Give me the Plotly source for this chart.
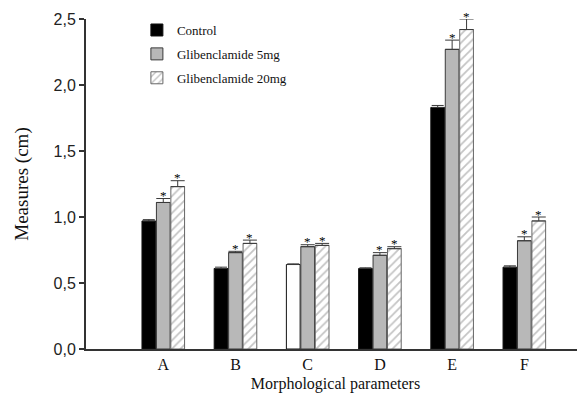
import plotly.graph_objects as go

categories = ["A", "B", "C", "D", "E", "F"]
series_names = ["Control", "Glibenclamide 5mg", "Glibenclamide 20mg"]
control = [0.97, 0.61, 0.64, 0.61, 1.83, 0.62]
control_err = [0.01, 0.01, 0.005, 0.005, 0.015, 0.01]
glib5 = [1.11, 0.73, 0.775, 0.71, 2.27, 0.82]
glib5_err = [0.03, 0.01, 0.015, 0.02, 0.07, 0.03]
glib20 = [1.23, 0.80, 0.785, 0.76, 2.42, 0.97]
glib20_err = [0.045, 0.025, 0.015, 0.015, 0.08, 0.03]
sig5 = [True] * 6
sig20 = [True] * 6
y_ticks = [0, 0.5, 1.0, 1.5, 2.0, 2.5]
y_tick_labels = ["0,0", "0,5", "1,0", "1,5", "2,0", "2,5"]

xs = list(range(len(categories)))
serif = "Liberation Serif"
sans = "Liberation Sans"
edge = "#3a3a3a"
zeros = [0] * len(categories)

control_colors = ["#000000", "#000000", "#ffffff", "#000000", "#000000", "#000000"]

fig = go.Figure()
fig.add_trace(go.Bar(
    x=xs, y=control, name=series_names[0], legendgroup="g0",
    marker=dict(color=control_colors, line=dict(color="#111111", width=1)),
    error_y=dict(type="data", symmetric=False, array=control_err, arrayminus=zeros,
                 color=edge, thickness=1, width=6),
))
fig.add_trace(go.Bar(
    x=xs, y=glib5, name=series_names[1], legendgroup="g1",
    marker=dict(color="#b8b8b8", line=dict(color=edge, width=1)),
    error_y=dict(type="data", symmetric=False, array=glib5_err, arrayminus=zeros,
                 color=edge, thickness=1, width=7),
))
fig.add_trace(go.Bar(
    x=xs, y=glib20, name=series_names[2], legendgroup="g2",
    marker=dict(color="#ffffff", line=dict(color="#666666", width=1),
                pattern=dict(shape="/", fgcolor="#8a8a8a", bgcolor="#ffffff",
                             size=6, solidity=0.3)),
    error_y=dict(type="data", symmetric=False, array=glib20_err, arrayminus=zeros,
                 color=edge, thickness=1, width=7),
))

slot = 0.2
for k, (vals, errs, sig) in enumerate([(glib5, glib5_err, sig5), (glib20, glib20_err, sig20)]):
    off = k * slot
    for i, (v, e, s) in enumerate(zip(vals, errs, sig)):
        if s:
            fig.add_annotation(x=xs[i] + off, y=v + e, xref="x", yref="y",
                               text="*", showarrow=False, yanchor="middle",
                               yshift=3, borderpad=0,
                               font=dict(family=serif, size=13, color="#000000"))

fig.update_layout(
    width=577, height=392,
    margin=dict(l=78, r=0, t=11, b=51),
    paper_bgcolor="white", plot_bgcolor="white",
    barmode="group", bargap=0.4, bargroupgap=0.05,
    showlegend=True,
    legend=dict(x=0.102, y=1.012, xanchor="left", yanchor="top",
                font=dict(family=serif, size=13, color="#111111"),
                bgcolor="rgba(0,0,0,0)", tracegroupgap=4),
    xaxis=dict(
        range=[-1.07, 5.84], tickmode="array", tickvals=xs, ticktext=categories,
        showline=True, linecolor="#333333", linewidth=2, ticks="",
        showgrid=False, zeroline=False,
        tickfont=dict(family=serif, size=16, color="#111111"),
        title=dict(text="Morphological parameters", font=dict(family=serif, size=16, color="#111111"), standoff=6),
    ),
    yaxis=dict(
        range=[0, 2.5], tickmode="array", tickvals=y_ticks, ticktext=y_tick_labels,
        showline=True, linecolor="#333333", linewidth=2, ticks="outside", ticklen=5,
        tickwidth=2, tickcolor="#333333",
        showgrid=False, zeroline=False,
        tickfont=dict(family=sans, size=16, color="#222222"),
        title=dict(text="Measures (cm)", font=dict(family=serif, size=19, color="#111111"), standoff=20),
    ),
)

fig.write_html("out.html")
